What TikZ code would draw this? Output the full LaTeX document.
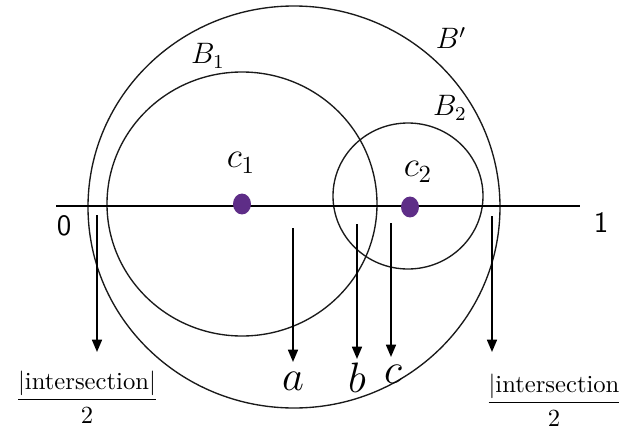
\documentclass[tikz,border=0pt]{standalone}
\usepackage{amsmath,amssymb}
\usepackage{xcolor}
\usepackage{tikz}
\usetikzlibrary{arrows.meta,shapes.geometric}
\definecolor{dotc}{HTML}{5E2D87}
\definecolor{linec}{HTML}{1A1A1A}
\tikzset{
  ar/.style={-{Triangle[length=5pt,width=4pt]},line width=0.8pt,black},
  ball/.style={draw=linec,line width=0.55pt},
  ctr/.style={ellipse,fill=dotc,minimum width=7.3pt,minimum height=8.5pt,inner sep=0pt},
  lbl/.style={inner sep=0pt,font=\large}
}

\begin{document}
\begin{tikzpicture}[x=0.406pt,y=-0.406pt]
\useasboundingbox (0,0) rectangle (628,432);
% balls
\draw[ball] (294,207) ellipse [x radius=206,y radius=201];
\draw[ball] (242,204) ellipse [x radius=135,y radius=132];
\draw[ball] (408,196) ellipse [x radius=75,y radius=73];
% the unit interval
\draw[line width=0.8pt] (56,206) -- (580,206);
\node[font=\large\sffamily,inner sep=0pt] (zero) at (64,226) {0};
\node[font=\large\sffamily,inner sep=0pt] (one) at (601,223) {1};
\node[ctr] (c1) at (242,204) {};
\node[ctr] (c2) at (410,207) {};
\node[lbl,font=\Large] (lc1) at (241,163) {$c_1$};
\node[lbl,font=\Large] (lc2) at (418,172) {$c_2$};
\node[lbl] (lb1) at (208,56) {$B_1$};
\node[lbl] (lbp) at (451,38) {$B'$};
\node[lbl] (lb2) at (450,108) {$B_2$};
% points and labels
\foreach \n/\x/\ys/\ye in {l/97/215/352,a/293/228/362,b/357/224/359,c/391/223/357,r/492/216/352}{
  \coordinate (s\n) at (\x,\ys);
  \coordinate (e\n) at (\x,\ye);
}
\node[font=\LARGE,anchor=base,inner sep=0pt] (la) at (293,390) {$a$};
\node[font=\LARGE,anchor=base,inner sep=0pt] (lb) at (357,392) {$b$};
\node[font=\LARGE,anchor=base,inner sep=0pt] (lc) at (393,383) {$c$};
\node[inner sep=0pt] (fl) at (87,397) {$\dfrac{|\text{intersection}|}{2}$};
\node[inner sep=0pt] (fr) at (554,400) {$\dfrac{|\text{intersection}}{2}$};
\foreach \n in {l,a,b,c,r}
  \draw[ar] (s\n) -- (e\n);
\end{tikzpicture}
\end{document}
